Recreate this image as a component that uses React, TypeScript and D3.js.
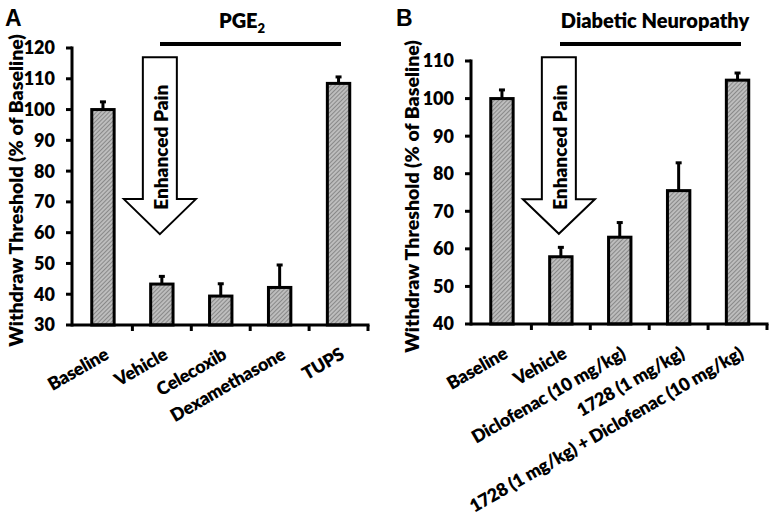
import React from "react";
import * as d3 from "d3";

const categoriesA = ["Baseline", "Vehicle", "Celecoxib", "Dexamethasone", "TUPS"];
const meansA = [100, 43.3, 39.4, 42.2, 108.5];
const errorsA = [2.5, 2.5, 4.0, 7.3, 2.1];
const yTicksA = [30, 40, 50, 60, 70, 80, 90, 100, 110, 120];

const categoriesB = [
  "Baseline",
  "Vehicle",
  "Diclofenac (10 mg/kg)",
  "1728 (1 mg/kg)",
  "1728 (1 mg/kg) + Diclofenac (10 mg/kg)",
];
const meansB = [100, 57.9, 63.1, 75.5, 104.9];
const errorsB = [2.3, 2.5, 3.9, 7.4, 1.9];
const yTicksB = [40, 50, 60, 70, 80, 90, 100, 110];

// Arrow annotation values (data units): shaft top, head base, tip
const arrowA = [117, 70.9, 59.5];
const arrowB = [111, 73.2, 64];

const FONT = "Lato, 'Open Sans', sans-serif";
const W = 800;

type PanelProps = {
  letter: string;
  letterX: number;
  title: React.ReactNode;
  titleX: number;
  lineX: [number, number];
  categories: string[];
  means: number[];
  errors: number[];
  ticks: number[];
  x0: number;
  x1: number;
  yTop: number;
  yBottom: number;
  ylabelX: number;
  arrow: number[];
};

function Panel(p: PanelProps) {
  const domain: [number, number] = [p.ticks[0], p.ticks[p.ticks.length - 1]];
  const y = d3.scaleLinear().domain(domain).range([p.yBottom, p.yTop]);
  const x = d3.scaleBand<string>().domain(p.categories).range([p.x0 + 1.5, p.x1]).padding(0);
  const bw = x.bandwidth();
  const barW = bw * 0.38;
  const axisX = p.x0;
  const yMid = (p.yTop + p.yBottom) / 2;

  // arrow geometry
  const ac = (x(p.categories[1]) as number) + bw / 2 - 2;
  const shaftHalf = 17;
  const headHalf = 36;
  const [aTop, aBase, aTip] = p.arrow.map((v) => y(v));
  const arrowPts = [
    [ac - shaftHalf, aTop],
    [ac + shaftHalf, aTop],
    [ac + shaftHalf, aBase],
    [ac + headHalf, aBase],
    [ac, aTip],
    [ac - headHalf, aBase],
    [ac - shaftHalf, aBase],
  ]
    .map((d) => d.join(","))
    .join(" ");

  return (
    <g fontFamily={FONT} fontWeight={W}>
      <text x={p.letterX} y={26} fontFamily="'Liberation Sans', Arial, sans-serif" fontSize={23} fontWeight="bold">
        {p.letter}
      </text>
      <text x={p.titleX} y={28} fontSize={20} textAnchor="middle">
        {p.title}
      </text>
      <line x1={p.lineX[0]} x2={p.lineX[1]} y1={44} y2={44} stroke="#000" strokeWidth={4} />

      {/* y axis label */}
      <text
        transform={`translate(${p.ylabelX},${yMid + 4}) rotate(-90)`}
        textAnchor="middle"
        fontSize={19.5}
      >
        Withdraw Threshold (% of Baseline)
      </text>

      {/* bars */}
      {p.categories.map((c, i) => {
        const cx = (x(c) as number) + bw / 2;
        const top = y(p.means[i]);
        const eTop = y(p.means[i] + p.errors[i]);
        return (
          <g key={c}>
            <line x1={cx} x2={cx} y1={top} y2={eTop} stroke="#000" strokeWidth={3} />
            <line x1={cx - 3} x2={cx + 3} y1={eTop} y2={eTop} stroke="#000" strokeWidth={3} />
            <rect
              x={cx - barW / 2}
              y={top}
              width={barW}
              height={p.yBottom - top}
              fill="url(#hatch)"
              stroke="#000"
              strokeWidth={3}
            />
          </g>
        );
      })}

      {/* arrow */}
      <polygon points={arrowPts} fill="#fff" stroke="#000" strokeWidth={2} />
      <text
        transform={`translate(${ac + 8},${(aTop + aBase) / 2 + 19}) rotate(-90)`}
        textAnchor="middle"
        fontSize={19}
      >
        Enhanced Pain
      </text>

      {/* y axis */}
      <line x1={axisX} x2={axisX} y1={p.yTop - 1.5} y2={p.yBottom + 1.5} stroke="#000" strokeWidth={3} />
      {p.ticks.map((t) => (
        <g key={t}>
          <line x1={axisX - 6} x2={axisX} y1={y(t)} y2={y(t)} stroke="#000" strokeWidth={3} />
          <text x={axisX - 17} y={y(t)} dy="0.36em" textAnchor="end" fontSize={18}>
            {t}
          </text>
        </g>
      ))}

      {/* x axis */}
      <line x1={axisX} x2={p.x1 + 1.5} y1={p.yBottom} y2={p.yBottom} stroke="#000" strokeWidth={3} />
      {p.categories.map((c) => {
        const xe = (x(c) as number) + bw;
        return <line key={c} x1={xe} x2={xe} y1={p.yBottom} y2={p.yBottom + 6} stroke="#000" strokeWidth={3} />;
      })}
      {p.categories.map((c) => {
        const cx = (x(c) as number) + bw / 2;
        return (
          <text
            key={c}
            transform={`translate(${cx + 7},${p.yBottom + 33}) rotate(-30)`}
            textAnchor="end"
            fontSize={18}
            letterSpacing={-0.25}
          >
            {c}
          </text>
        );
      })}
    </g>
  );
}

export default function App() {
  return (
    <svg
      width={771}
      height={517}
      style={{ position: "absolute", left: 0, top: 0, background: "#fff" }}
    >
      <defs>
        <pattern id="hatch" patternUnits="userSpaceOnUse" width={3} height={3} patternTransform="rotate(45)">
          <rect width={3} height={3} fill="#bdbdbd" />
          <line x1={0} y1={0} x2={0} y2={3} stroke="#737373" strokeWidth={1.4} />
        </pattern>
      </defs>
      <rect width={771} height={517} fill="#fff" />
      <Panel
        letter="A"
        letterX={5}
        title={
          <>
            PGE<tspan fontSize={13} dy={5}>2</tspan>
          </>
        }
        titleX={242}
        lineX={[160, 341]}
        categories={categoriesA}
        means={meansA}
        errors={errorsA}
        ticks={yTicksA}
        x0={72}
        x1={368}
        yTop={48}
        yBottom={325}
        ylabelX={23}
        arrow={arrowA}
      />
      <Panel
        letter="B"
        letterX={396}
        title="Diabetic Neuropathy"
        titleX={655}
        lineX={[560, 741]}
        categories={categoriesB}
        means={meansB}
        errors={errorsB}
        ticks={yTicksB}
        x0={471}
        x1={767}
        yTop={61}
        yBottom={324}
        ylabelX={419}
        arrow={arrowB}
      />
    </svg>
  );
}
